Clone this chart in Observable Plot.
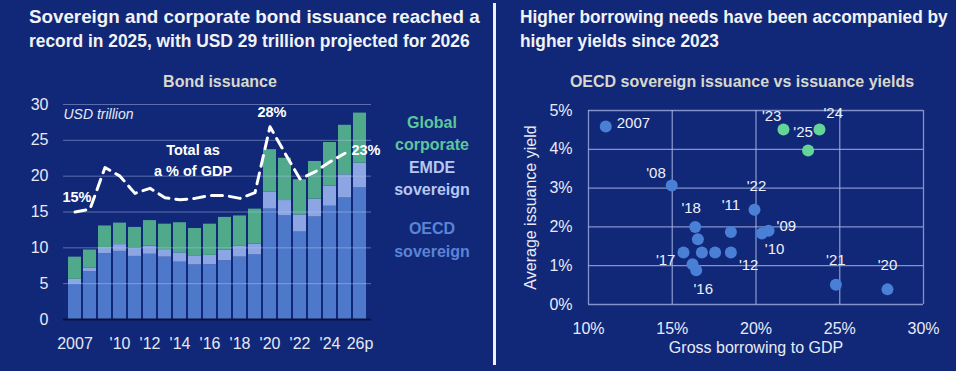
<!DOCTYPE html>
<html><head><meta charset="utf-8">
<script src="https://cdn.jsdelivr.net/npm/d3@7"></script>
<script src="https://cdn.jsdelivr.net/npm/@observablehq/plot@0.6"></script>
<style>
body{margin:0;background:#112878;}
#wrap{position:relative;width:956px;height:371px;background:#112878;overflow:hidden;font-family:"Liberation Sans",Arial,sans-serif;}
.abs{position:absolute;}
.leg{position:absolute;left:382px;width:100px;text-align:center;font-weight:bold;font-size:16px;line-height:22px;}
.sub{position:absolute;text-align:center;font-weight:bold;font-size:16px;line-height:20px;color:#d8d8cc;}
</style></head><body>
<div id="wrap">
  <svg class="abs" style="left:0;top:0" width="956" height="60">
    <g fill="#f2f3f7" font-family="Liberation Sans, Arial, sans-serif" font-weight="bold" font-size="19">
      <text class="ttl" data-x="29" data-y="23" data-w="451">Sovereign and corporate bond issuance reached a</text>
      <text class="ttl" data-x="29" data-y="47" data-w="441">record in 2025, with USD 29 trillion projected for 2026</text>
      <text class="ttl" data-x="520" data-y="23" data-w="428">Higher borrowing needs have been accompanied by</text>
      <text class="ttl" data-x="520" data-y="47" data-w="199">higher yields since 2023</text>
    </g>
  </svg>
  <div class="sub" style="left:120px;width:200px;top:72px;">Bond issuance</div>
  <div class="sub" style="left:542px;width:400px;top:72px;">OECD sovereign issuance vs issuance yields</div>
  <div id="left" class="abs" style="left:0;top:0"></div>
  <div id="right" class="abs" style="left:496px;top:0"></div>
  <div class="abs" style="left:493px;top:3px;width:3px;height:362px;background:#eef0f6"></div>
  <div class="leg" style="top:112px;color:#5cc69c;">Global<br>corporate</div>
  <div class="leg" style="top:157px;color:#b6c7f2;">EMDE<br>sovereign</div>
  <div class="leg" style="top:217px;line-height:23px;color:#5b84d6;">OECD<br>sovereign</div>
</div>
<script>
// fit title lines to the reference widths with a horizontal scale
document.querySelectorAll("text.ttl").forEach(t=>{
  const len = t.getComputedTextLength();
  const s = (+t.dataset.w) / len;
  t.setAttribute("transform", `translate(${t.dataset.x},${t.dataset.y}) scale(${s},1)`);
});

// ---------- Left panel data (USD trillion) ----------
const years = [2007,2008,2009,2010,2011,2012,2013,2014,2015,2016,2017,2018,2019,2020,2021,2022,2023,2024,2025,2026];
const yearTicks = [2007,2010,2012,2014,2016,2018,2020,2022,2024,2026];
const yearTickLabels = ["2007","'10","'12","'14","'16","'18","'20","'22","'24","26p"];
const oecdSov   = [4.9,6.7,9.2,9.5,8.8,9.1,8.7,8.0,7.6,7.65,8.2,8.7,9.0,15.4,14.45,12.2,14.3,15.8,16.95,18.35];
const emdeSov   = [0.7,0.5,0.85,0.95,1.15,1.15,1.05,1.3,1.2,1.3,1.45,1.5,1.5,2.4,2.15,2.4,2.5,2.8,3.25,3.45];
const globalCorp= [3.1,2.5,3.0,3.0,2.9,3.55,3.55,4.2,3.9,4.35,4.6,4.25,4.9,5.9,5.9,4.9,5.25,6.1,6.9,7.0];
const gdpShare  = [15.0,15.4,21.2,20.0,17.6,18.3,17.0,16.7,16.9,17.3,17.3,16.9,17.7,26.9,23.2,19.6,20.6,22.0,23.2,23.4];
const shareLabelYears = [2007,2020,2026];
const shareLabels = ["15%","28%","23%"];
const seriesNames = ["OECD sovereign","EMDE sovereign","Global corporate"];
const seriesColors = ["#4e79cb","#8ba6e3","#4fa98a"];

// ---------- Right panel data ----------
const scYears = [2007,2008,2009,2010,2011,2012,2013,2014,2015,2016,2017,2018,2019,2020,2021,2022,2023,2024,2025];
const scBorrow = [11.03,14.97,20.75,20.35,18.50,18.50,17.56,16.53,16.21,16.43,15.67,16.37,16.77,27.85,24.77,19.91,21.64,23.79,23.11];
const scYield  = [4.59,3.07,1.90,1.83,1.87,1.34,1.34,1.68,1.04,0.88,1.34,2.00,1.34,0.39,0.51,2.44,4.51,4.51,3.97];
const scLabels = ["2007","'08","'09","'10","'11","'12","","","","'16","'17","'18","","'20","'21","'22","'23","'24","'25"];

// label placement (layout only)
const labelPlacement = {
  2007:{a:"start",dx:11,dy:-3}, 2008:{a:"end",dx:-6,dy:-12}, 2009:{a:"start",dx:8,dy:-5},
  2010:{a:"start",dx:3,dy:16}, 2011:{a:"middle",dx:0,dy:-27}, 2012:{a:"start",dx:8,dy:13},
  2016:{a:"middle",dx:7,dy:19}, 2017:{a:"end",dx:-8,dy:8}, 2018:{a:"middle",dx:-4,dy:-19},
  2020:{a:"middle",dx:0,dy:-24}, 2021:{a:"middle",dx:0,dy:-25}, 2022:{a:"middle",dx:2,dy:-24},
  2023:{a:"end",dx:-2,dy:-13}, 2024:{a:"start",dx:4,dy:-16}, 2025:{a:"middle",dx:-5,dy:-18}
};
const sharePlacement = [{dx:2,dy:-15},{dx:2,dy:-14},{dx:6,dy:-1}];

const font = "Liberation Sans, Arial, sans-serif";

// build tables
const bars = [];
years.forEach((yr,i)=>{
  bars.push({year:yr, series:seriesNames[0], value:oecdSov[i]});
  bars.push({year:yr, series:seriesNames[1], value:emdeSov[i]});
  bars.push({year:yr, series:seriesNames[2], value:globalCorp[i]});
});
const shareRows = years.map((yr,i)=>({year:yr, share:gdpShare[i]}));
const lineRows = shareRows.filter(d => d.year < 2026);
const tickMap = new Map(yearTicks.map((t,i)=>[t,yearTickLabels[i]]));

const leftPlot = Plot.plot({
  width:490, height:371,
  marginTop:104, marginBottom:52, marginLeft:63, marginRight:119,
  style:{background:"transparent", color:"#e6e9f5", fontFamily:font, fontSize:"16px", overflow:"visible"},
  x:{type:"band", domain:years, paddingInner:0.12, paddingOuter:0.1, label:null},
  y:{domain:[0,30], label:null},
  color:{domain:seriesNames, range:seriesColors},
  marks:[
    Plot.barY(bars, {x:"year", y:"value", fill:"series", order:seriesNames}),
    Plot.ruleY([5,10,15,20,25,30], {stroke:"#b8c4ee", strokeOpacity:0.45, strokeWidth:1}),
    Plot.ruleY([0], {stroke:"#08123f", strokeWidth:2}),
    Plot.line(lineRows, {x:"year", y:"share", stroke:"#ffffff", strokeWidth:3, strokeDasharray:"11,7"}),
    ...shareLabels.map((lab,i)=>Plot.text(shareRows.filter(d=>d.year===shareLabelYears[i]), {
      x:"year", y:"share", text:()=>lab, fill:"#ffffff", fontWeight:"bold", fontSize:14.5,
      dx:sharePlacement[i].dx, dy:sharePlacement[i].dy})),
    Plot.text(["Total as\na % of GDP"], {x:()=>2015, y:()=>22.4, dx:-2, fill:"#ffffff", fontWeight:"bold", fontSize:14.5, lineHeight:1.45}),
    Plot.text(["USD trillion"], {frameAnchor:"top-left", lineAnchor:"middle", dy:10, fill:"#e6e9f5", fontStyle:"italic", fontSize:14}),
    Plot.axisY({ticks:[0,5,10,15,20,25,30], tickSize:0, tickPadding:15, label:null}),
    Plot.axisX({ticks:yearTicks, tickFormat:d=>tickMap.get(d), tickSize:0, tickPadding:18, label:null})
  ]
});
document.getElementById("left").appendChild(leftPlot);

const pts = scYears.map((yr,i)=>({year:yr, x:scBorrow[i], y:scYield[i], label:scLabels[i]}));
const earlier = pts.filter(d=>d.year<2023);
const recent = pts.filter(d=>d.year>=2023);

const rightPlot = Plot.plot({
  width:460, height:371,
  marginTop:110, marginBottom:67, marginLeft:92, marginRight:33,
  style:{background:"transparent", color:"#e8ebf7", fontFamily:font, fontSize:"16px", overflow:"visible"},
  x:{domain:[10,30], label:null},
  y:{domain:[0,5], label:null},
  marks:[
    Plot.ruleX([10,15,20,25,30], {stroke:"#a9b5e6", strokeOpacity:0.75, strokeWidth:1.3}),
    Plot.ruleY([0,1,2,3,4,5], {stroke:"#a9b5e6", strokeOpacity:0.75, strokeWidth:1.3}),
    Plot.dot(earlier, {x:"x", y:"y", r:6, fill:"#4a7fd6", stroke:null}),
    Plot.dot(recent, {x:"x", y:"y", r:6, fill:"#63d596", stroke:null}),
    ...pts.filter(d=>d.label).map(d=>{
      const p = labelPlacement[d.year];
      return Plot.text([d], {x:"x", y:"y", text:"label", textAnchor:p.a, dx:p.dx, dy:p.dy, fill:"#eef0f8", fontSize:15});
    }),
    Plot.axisX({ticks:[10,15,20,25,30], tickFormat:d=>d+"%", tickSize:0, tickPadding:18, label:null}),
    Plot.axisY({ticks:[0,1,2,3,4,5], tickFormat:d=>d+"%", tickSize:0, tickPadding:16, label:null}),
    Plot.text(["Gross borrowing to GDP"], {frameAnchor:"bottom", lineAnchor:"middle", dy:43, fill:"#e8ebf7", fontSize:16}),
    Plot.text(["Average issuance yield"], {frameAnchor:"left", textAnchor:"middle", lineAnchor:"middle", rotate:-90, dx:-58, fill:"#e8ebf7", fontSize:16})
  ]
});
document.getElementById("right").appendChild(rightPlot);
</script>
</body></html>
